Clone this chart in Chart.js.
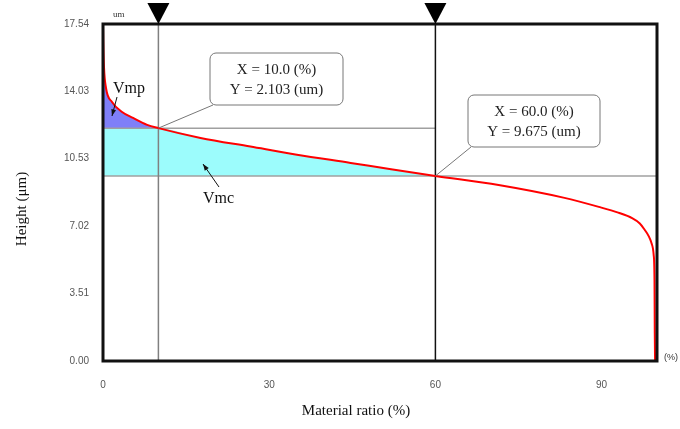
<!DOCTYPE html>
<html>
<head>
<meta charset="utf-8">
<script src="https://cdn.jsdelivr.net/npm/chart.js@4/dist/chart.umd.min.js"></script>
<style>
  html, body { margin: 0; padding: 0; background: #fff; }
  #wrap { width: 680px; height: 429px; position: relative; }
</style>
</head>
<body>
<div id="wrap"><canvas id="chart"></canvas></div>
<script>
// === Data ===
const ratio   = [0, 0.05, 0.18, 0.54, 1.63, 3.44, 5.43, 7.97, 10, 17.6, 26.6, 35, 44.7, 52, 60, 71.4, 83.3, 89.5, 93, 95.5, 96.9, 97.8, 98.5, 99.0, 99.4, 99.55, 99.6, 99.65];
const heights = [17.54, 16.6, 15.3, 14.21, 13.48, 12.96, 12.65, 12.29, 12.12, 11.61, 11.16, 10.74, 10.31, 9.98, 9.63, 9.16, 8.49, 8.02, 7.72, 7.44, 7.16, 6.82, 6.5, 6.14, 5.52, 4.22, 1.46, 0.05];

const markerRatio  = [10, 60];
const markerHeight = [12.12, 9.63];
const markerText = [
    ["X = 10.0 (%)", "Y = 2.103 (um)"],
    ["X = 60.0 (%)", "Y = 9.675 (um)"],
];

const xTicks = [0, 30, 60, 90];
const yTicks = [0, 3.51, 7.02, 10.53, 14.03, 17.54];
const xMax = 100;
const yMax = 17.54;

// === Derived shapes ===
const curve = ratio.map((x, i) => ({ x, y: heights[i] }));
const vmpEdge = curve.filter(p => p.x <= markerRatio[0]);
const vmcEdge = [{ x: 0, y: markerHeight[0] }]
    .concat(curve.filter(p => p.x >= markerRatio[0] && p.x <= markerRatio[1]));

const SERIF = "'Liberation Serif', 'Times New Roman', serif";
const SANS = "'Liberation Sans', Arial, sans-serif";

function lineSet(data, color, width) {
    return { data, borderColor: color, borderWidth: width, pointRadius: 0, showLine: true, fill: false, tension: 0 };
}

function curveSet(data, color, width) {
    return Object.assign(lineSet(data, color, width), { cubicInterpolationMode: "monotone", tension: 0.4 });
}

// === Overlay: frame, markers, callouts ===
function arrow(ctx, x1, y1, x2, y2) {
    ctx.beginPath();
    ctx.moveTo(x1, y1);
    ctx.lineTo(x2, y2);
    ctx.stroke();
    const a = Math.atan2(y2 - y1, x2 - x1);
    ctx.beginPath();
    ctx.moveTo(x2, y2);
    ctx.lineTo(x2 - 7 * Math.cos(a - 0.35), y2 - 7 * Math.sin(a - 0.35));
    ctx.lineTo(x2 - 7 * Math.cos(a + 0.35), y2 - 7 * Math.sin(a + 0.35));
    ctx.closePath();
    ctx.fill();
}

function callout(ctx, box, lines, tx, ty) {
    ctx.strokeStyle = "#777";
    ctx.lineWidth = 1;
    ctx.beginPath();
    ctx.moveTo(box.x + 3, box.y + box.h);
    ctx.lineTo(tx, ty);
    ctx.stroke();
    ctx.fillStyle = "#fff";
    ctx.beginPath();
    ctx.roundRect(box.x, box.y, box.w, box.h, 6);
    ctx.fill();
    ctx.stroke();
    ctx.fillStyle = "#222";
    ctx.font = "15px " + SERIF;
    ctx.textAlign = "center";
    ctx.textBaseline = "middle";
    ctx.fillText(lines[0], box.x + box.w / 2, box.y + 17);
    ctx.fillText(lines[1], box.x + box.w / 2, box.y + 37);
}

const overlay = {
    id: "overlay",
    afterDatasetsDraw(chart) {
        const { ctx, chartArea: a, scales: { x, y } } = chart;
        ctx.save();

        // frame
        ctx.strokeStyle = "#111";
        ctx.lineWidth = 3;
        ctx.strokeRect(a.left, a.top, a.right - a.left, a.bottom - a.top);

        // marker triangles
        ctx.fillStyle = "#000";
        markerRatio.forEach(r => {
            const px = x.getPixelForValue(r);
            ctx.beginPath();
            ctx.moveTo(px - 11, a.top - 21);
            ctx.lineTo(px + 11, a.top - 21);
            ctx.lineTo(px, a.top);
            ctx.closePath();
            ctx.fill();
        });

        // callouts
        callout(ctx, { x: 210, y: 53, w: 133, h: 52 }, markerText[0],
            x.getPixelForValue(markerRatio[0]), y.getPixelForValue(markerHeight[0]));
        callout(ctx, { x: 468, y: 95, w: 132, h: 52 }, markerText[1],
            x.getPixelForValue(markerRatio[1]), y.getPixelForValue(markerHeight[1]));

        // region labels
        ctx.fillStyle = "#111";
        ctx.strokeStyle = "#111";
        ctx.lineWidth = 1;
        ctx.font = "16px " + SERIF;
        ctx.textAlign = "left";
        ctx.textBaseline = "alphabetic";
        ctx.fillText("Vmp", 113, 93);
        arrow(ctx, 117, 97, 112, 116);
        ctx.fillText("Vmc", 203, 203);
        arrow(ctx, 219, 187, 203, 164);

        // units and axis titles
        ctx.fillStyle = "#333";
        ctx.font = "9px " + SERIF;
        ctx.fillText("um", 113, 17);
        ctx.font = "9px " + SANS;
        ctx.fillText("(%)", 664, 360);

        ctx.fillStyle = "#111";
        ctx.font = "15px " + SERIF;
        ctx.textAlign = "center";
        ctx.textBaseline = "middle";
        ctx.fillText("Material ratio (%)", 356, 411);
        ctx.translate(22, 209);
        ctx.rotate(-Math.PI / 2);
        ctx.fillText("Height (\u03bcm)", 0, 0);

        ctx.restore();
    }
};

// === Chart ===
new Chart(document.getElementById("chart"), {
    type: "scatter",
    data: {
        datasets: [
            curveSet(curve, "#ff0000", 2),
            lineSet([{ x: markerRatio[0], y: 0 }, { x: markerRatio[0], y: yMax }], "#808080", 1.5),
            lineSet([{ x: markerRatio[1], y: 0 }, { x: markerRatio[1], y: yMax }], "#111", 1.5),
            lineSet([{ x: 0, y: markerHeight[0] }, { x: markerRatio[1], y: markerHeight[0] }], "#a0a0a0", 1.5),
            lineSet([{ x: 0, y: markerHeight[1] }, { x: xMax, y: markerHeight[1] }], "#a0a0a0", 1.5),
            Object.assign(curveSet(vmpEdge, "rgba(0,0,0,0)", 0),
                { fill: { value: markerHeight[0] }, backgroundColor: "#7f7ff8" }),
            Object.assign(curveSet(vmcEdge, "rgba(0,0,0,0)", 0),
                { fill: { value: markerHeight[1] }, backgroundColor: "#9cfcfc" }),
        ],
    },
    options: {
        responsive: true,
        maintainAspectRatio: false,
        animation: false,
        layout: { padding: { top: 24, right: 23, left: 0, bottom: 0 } },
        plugins: { legend: { display: false }, tooltip: { enabled: false } },
        scales: {
            x: {
                type: "linear", min: 0, max: xMax,
                afterBuildTicks: s => { s.ticks = xTicks.map(v => ({ value: v })); },
                afterFit: s => { s.height = 68; },
                grid: { display: false },
                border: { display: false },
                ticks: { color: "#555", font: { family: SANS, size: 10 }, padding: 10 },
            },
            y: {
                type: "linear", min: 0, max: yMax,
                afterBuildTicks: s => { s.ticks = yTicks.map(v => ({ value: v })); },
                afterFit: s => { s.width = 103; },
                grid: { display: false },
                border: { display: false },
                ticks: {
                    color: "#555", font: { family: SANS, size: 10 }, padding: 6,
                    callback: v => v.toFixed(2),
                },
            },
        },
    },
    plugins: [overlay],
});
</script>
</body>
</html>
